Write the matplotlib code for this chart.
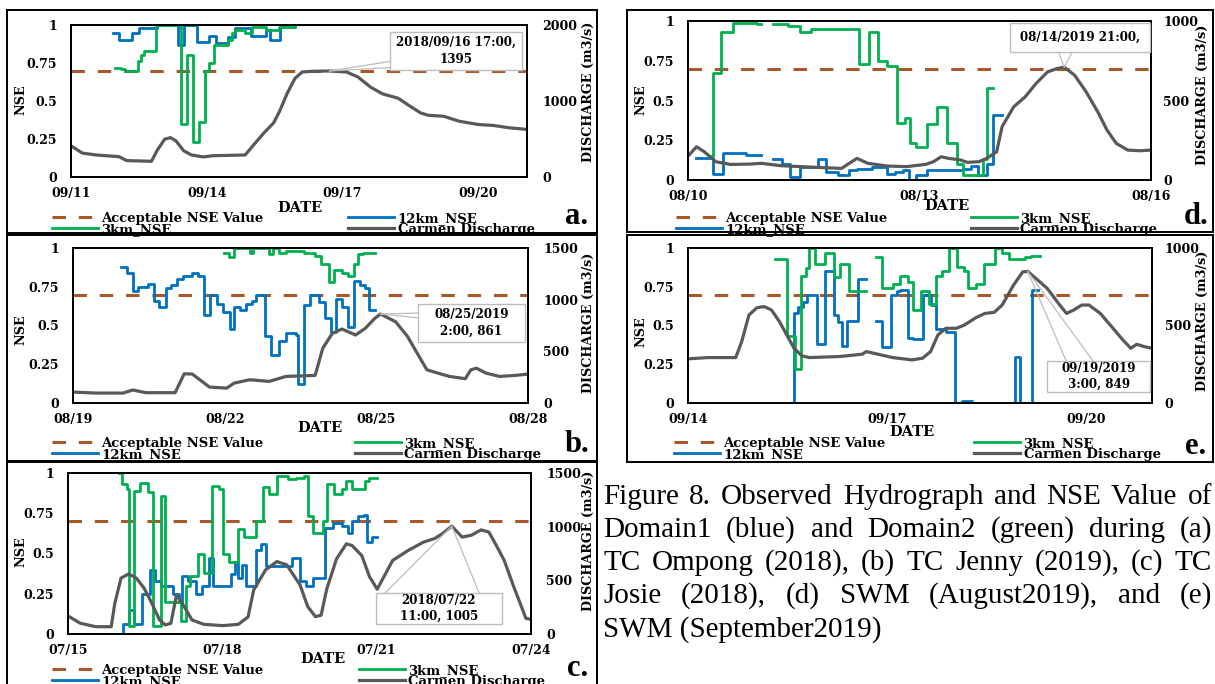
import numpy as np
import matplotlib
matplotlib.use('Agg')
import matplotlib.pyplot as plt
from matplotlib.patches import Rectangle

W, H = 1215, 684
SERIF = 'DejaVu Serif'
CAPFONT = 'Liberation Serif'
C_ACC, C_12, C_3, C_Q = '#A9582A', '#0070C0', '#00B050', '#595959'
plt.rcParams['font.family'] = [SERIF]
plt.rcParams['font.weight'] = 'bold'

NSE_TICKS = [0, 0.25, 0.5, 0.75, 1]
NSE_LABELS = ['0', '0.25', '0.5', '0.75', '1']
ACCEPT = 0.7
SERIES = ['Acceptable NSE Value', '12km_NSE', '3km_NSE', 'Carmen Discharge']

# ---------------- data (x = days since first date tick) ----------------
# (a) TC Ompong 2018
a_dates = ['09/11', '09/14', '09/17', '09/20']
a_q_t = [0, 0.25, 0.55, 1.06, 1.23, 1.78, 1.9, 2.07, 2.2, 2.32, 2.49, 2.66, 2.92, 3.13, 3.85, 4.02,
         4.27, 4.48, 4.61, 4.78, 4.95, 5.11, 5.33, 5.71, 6.09, 6.34, 6.63, 6.89, 7.23, 7.48, 7.73,
         7.9, 8.24, 8.58, 9.0, 9.34, 9.68, 10.08]
a_q_v = [410, 315, 290, 268, 216, 207, 346, 497, 518, 475, 346, 290, 264, 280, 290, 410,
         583, 713, 864, 1102, 1296, 1382, 1391, 1395, 1382, 1317, 1179, 1093, 1037, 937, 842,
         812, 799, 734, 691, 678, 648, 626]
a_12_t = [0.93, 1.05, 1.35, 1.5, 1.9, 2.37, 2.49, 2.79, 3.04, 3.21, 3.47, 3.63, 3.97, 4.31, 4.39, 4.61, 4.95]
a_12_v = [0.95, 0.9, 0.95, 0.98, 1.0, 0.87, 1.0, 0.89, 0.93, 0.88, 0.92, 0.98, 0.93, 0.97, 0.9, 0.99, 1.0]
a_3_t = [0.97, 1.1, 1.2, 1.48, 1.55, 1.62, 1.88, 2.43, 2.56, 2.7, 2.83, 2.96, 3.04, 3.17, 3.47,
         3.55, 3.63, 3.85, 4.0, 4.3, 4.6, 4.95]
a_3_v = [0.72, 0.71, 0.70, 0.76, 0.80, 0.83, 1.0, 0.35, 0.8, 0.23, 0.36, 0.7, 0.75, 0.87, 0.9,
         0.95, 0.97, 0.95, 0.99, 0.97, 0.99, 1.0]

# (b) TC Jenny 2019
b_dates = ['08/19', '08/22', '08/25', '08/28']
b_q_t = [0, 0.46, 0.99, 1.18, 1.44, 2.02, 2.2, 2.36, 2.7, 3.04, 3.19, 3.5, 3.88, 4.21, 4.79, 4.94,
         5.13, 5.32, 5.44, 5.59, 5.78, 5.97, 6.08, 6.38, 6.62, 6.77, 7.0, 7.22, 7.45, 7.76, 7.87,
         7.98, 8.17, 8.44, 8.75, 9.0]
b_q_v = [106, 96, 96, 126, 100, 100, 283, 280, 154, 144, 193, 225, 209, 257, 267, 530,
         674, 716, 690, 658, 722, 819, 861, 787, 642, 514, 321, 289, 257, 235, 321,
         337, 289, 257, 267, 280]
b_12_t = [0.95, 1.065, 1.18, 1.29, 1.48, 1.6, 1.71, 1.83, 1.94, 2.05, 2.17, 2.36, 2.47, 2.59, 2.7,
          2.85, 2.97, 3.1, 3.19, 3.31, 3.42, 3.54, 3.61, 3.8, 3.92, 4.07, 4.22, 4.41, 4.45, 4.56,
          4.68, 4.87, 4.98, 5.1, 5.21, 5.32, 5.44, 5.55, 5.67, 5.78, 5.86, 5.97]
b_12_v = [0.88, 0.84, 0.72, 0.75, 0.77, 0.66, 0.62, 0.74, 0.76, 0.8, 0.82, 0.84, 0.82, 0.57, 0.7,
          0.64, 0.59, 0.48, 0.62, 0.6, 0.64, 0.66, 0.7, 0.43, 0.31, 0.4, 0.45, 0.44, 0.12, 0.63,
          0.7, 0.65, 0.55, 0.46, 0.67, 0.62, 0.49, 0.79, 0.76, 0.74, 0.6, 0.6]
b_3_t = [2.99, 3.08, 3.19, 3.5, 3.57, 3.88, 3.95, 4.07, 4.22, 4.56, 4.79, 4.9, 5.06, 5.17, 5.32,
         5.44, 5.55, 5.63, 5.74, 5.97]
b_3_v = [0.97, 0.94, 1.0, 0.97, 1.0, 0.96, 1.0, 0.97, 0.98, 0.97, 0.95, 0.9, 0.78, 0.86, 0.84,
         0.82, 0.9, 0.96, 0.97, 0.97]

# (c) TC Josie 2018
c_dates = ['07/15', '07/18', '07/21', '07/24']
c_q_t = [0, 0.24, 0.54, 0.84, 0.91, 1.03, 1.18, 1.33, 1.48, 1.63, 1.78, 1.89, 2.0, 2.11, 2.22, 2.41,
         2.64, 3.01, 3.31, 3.5, 3.61, 3.84, 4.06, 4.25, 4.51, 4.66, 4.81, 4.92, 5.03, 5.22, 5.41,
         5.52, 5.71, 5.86, 6.01, 6.16, 6.31, 6.61, 6.91, 7.13, 7.28, 7.46, 7.66, 7.84, 8.03, 8.18,
         8.33, 8.48, 8.67, 8.82, 8.9, 9.0]
c_q_v = [168, 100, 68, 68, 286, 520, 560, 520, 426, 286, 131, 84, 100, 365, 286, 131,
         90, 78, 90, 159, 411, 597, 675, 645, 458, 255, 162, 175, 420, 700, 840,
         825, 731, 535, 417, 551, 685, 778, 856, 890, 936, 1005, 903, 920, 970, 950,
         822, 685, 433, 249, 146, 137]
c_12_t = [1.05, 1.06, 1.18, 1.29, 1.44, 1.59, 1.7, 1.81, 2.04, 2.15, 2.22, 2.34, 2.49, 2.6, 2.75,
          2.82, 3.16, 3.24, 3.31, 3.39, 3.46, 3.65, 3.76, 3.84, 4.36, 4.51, 4.62, 4.77, 5.0, 5.15,
          5.33, 5.45, 5.52, 5.63, 5.75, 5.82, 5.9, 6.01]
c_12_v = [0.0, 0.06, 0.15, 0.06, 0.25, 0.4, 0.33, 0.3, 0.25, 0.2, 0.36, 0.33, 0.25, 0.3, 0.47,
          0.3, 0.37, 0.45, 0.35, 0.43, 0.3, 0.52, 0.56, 0.42, 0.47, 0.33, 0.3, 0.35, 0.66, 0.69,
          0.67, 0.63, 0.7, 0.73, 0.74, 0.57, 0.6, 0.6]
c_3_t = [0.99, 1.05, 1.15, 1.18, 1.29, 1.4, 1.55, 1.66, 1.8, 1.89, 2.19, 2.3, 2.37, 2.52, 2.64,
         2.79, 2.94, 3.01, 3.12, 3.31, 3.42, 3.65, 3.8, 3.91, 4.06, 4.28, 4.43, 4.58, 4.66, 4.77,
         4.96, 5.03, 5.18, 5.33, 5.41, 5.52, 5.78, 5.86, 6.01]
c_3_v = [1.0, 0.93, 0.9, 0.05, 0.89, 0.94, 0.88, 0.05, 0.86, 0.2, 0.08, 0.3, 0.36, 0.5, 0.38,
         0.92, 0.9, 0.5, 0.45, 0.65, 0.6, 0.7, 0.91, 0.87, 0.98, 0.96, 0.97, 0.98, 0.73, 0.63,
         0.7, 0.93, 0.87, 0.9, 0.95, 0.9, 0.95, 0.97, 0.97]

# (d) SWM August 2019
d_dates = ['08/10', '08/13', '08/16']
d_q_t = [0, 0.11, 0.21, 0.36, 0.55, 0.8, 0.95, 1.2, 1.69, 1.99, 2.09, 2.19, 2.33, 2.58, 2.83, 3.08,
         3.18, 3.28, 3.38, 3.53, 3.62, 3.77, 3.87, 4.0, 4.07, 4.22, 4.37, 4.51, 4.66, 4.79, 4.875,
         5.01, 5.16, 5.31, 5.43, 5.55, 5.7, 5.85, 6.0]
d_q_v = [150, 209, 178, 115, 98, 100, 105, 90, 79, 73, 105, 136, 105, 88, 84, 98,
         115, 146, 136, 126, 111, 115, 136, 178, 335, 460, 523, 607, 680, 702, 710,
         659, 554, 429, 314, 230, 188, 184, 188]
d_12_t = [0.11, 0.33, 0.46, 0.75, 0.95, 1.1, 1.22, 1.32, 1.45, 1.69, 1.79, 1.94, 2.09, 2.19, 2.39,
          2.58, 2.68, 2.78, 2.86, 2.96, 3.1, 3.57, 3.67, 3.76, 3.87, 3.95, 4.07]
d_12_v = [0.14, 0.04, 0.17, 0.16, np.nan, 0.13, 0.1, 0.02, 0.08, 0.13, 0.05, 0.03, 0.06, 0.07, 0.08,
          0.04, 0.05, 0.06, 0.0, 0.03, 0.06, 0.07, 0.09, 0.03, 0.1, 0.41, 0.41]
d_3_t = [0.31, 0.33, 0.43, 0.58, 0.9, 0.95, 1.1, 1.3, 1.45, 1.59, 2.09, 2.21, 2.34, 2.46, 2.58,
         2.71, 2.81, 2.88, 2.96, 3.1, 3.23, 3.35, 3.48, 3.57, 3.82, 3.87, 3.95]
d_3_v = [0.15, 0.67, 0.93, 0.99, 0.98, np.nan, 0.98, 0.97, 0.93, 0.95, 0.95, 0.73, 0.93, 0.75, 0.72,
         0.36, 0.39, 0.23, 0.21, 0.35, 0.46, 0.23, 0.1, 0.03, 0.13, 0.58, 0.58]

# (e) SWM September 2019
e_dates = ['09/14', '09/17', '09/20']
e_q_t = [0, 0.3, 0.58, 0.72, 0.81, 0.92, 1.04, 1.15, 1.26, 1.38, 1.49, 1.6, 1.72, 1.83, 2.29, 2.63,
         2.69, 2.8, 3.09, 3.38, 3.54, 3.66, 3.77, 3.89, 4.05, 4.17, 4.34, 4.48, 4.62, 4.74, 4.91,
         5.05, 5.125, 5.25, 5.42, 5.59, 5.71, 5.82, 5.94, 6.05, 6.22, 6.39, 6.56, 6.68, 6.77, 6.88, 7.0]
e_q_v = [285, 293, 293, 293, 396, 568, 615, 622, 600, 525, 439, 353, 304, 293, 300, 315,
         332, 321, 293, 278, 289, 332, 439, 482, 482, 503, 550, 578, 585, 632, 760,
         846, 849, 803, 739, 642, 578, 600, 632, 632, 578, 493, 407, 353, 379, 364, 353]
e_12_t = [1.57, 1.6, 1.66, 1.73, 1.8, 1.95, 2.06, 2.21, 2.26, 2.32, 2.4, 2.56, 2.69, 2.83, 2.92,
          3.06, 3.15, 3.2, 3.32, 3.4, 3.54, 3.66, 3.74, 3.89, 4.03, 4.14, 4.28, 4.93, 5.01, 5.19, 5.28]
e_12_v = [0.0, 0.58, 0.62, 0.65, 0.7, 0.38, 0.85, 0.57, 0.52, 0.37, 0.53, 0.8, np.nan, 0.53, 0.36,
          0.7, 0.72, 0.73, 0.42, 0.41, 0.7, 0.63, 0.48, 0.46, 0.0, 0.01, 0.0, 0.3, 0.0, 0.73, 0.73]
e_3_t = [1.32, 1.5, 1.61, 1.71, 1.78, 1.83, 1.92, 2.06, 2.21, 2.29, 2.43, 2.69, 2.83, 2.92, 3.09,
         3.2, 3.32, 3.4, 3.52, 3.63, 3.74, 3.83, 3.94, 4.06, 4.17, 4.23, 4.34, 4.46, 4.63, 4.74,
         4.85, 5.08, 5.17, 5.31]
e_3_v = [0.93, 0.43, 0.22, 0.82, 0.87, 1.0, 0.9, 0.97, 0.81, 0.9, 0.72, np.nan, 0.94, 0.74, 0.77,
         0.82, 0.78, 0.6, 0.72, 0.64, 0.82, 0.85, 1.0, 0.88, 0.85, 0.74, 0.77, 0.9, 1.0, 0.97,
         0.93, 0.94, 0.95, 0.95]

peak_labels = {
    'a': '2018/09/16 17:00,\n1395',
    'b': '08/25/2019\n2:00, 861',
    'c': '2018/07/22\n11:00, 1005',
    'd': '08/14/2019 21:00,',
    'e': '09/19/2019\n3:00, 849',
}

caption = ["Figure 8. Observed Hydrograph and NSE Value of",
           "Domain1 (blue) and Domain2 (green) during (a)",
           "TC Ompong (2018), (b) TC Jenny (2019), (c) TC",
           "Josie (2018), (d) SWM (August2019), and (e)",
           "SWM (September2019)"]

# ---------------- drawing ----------------
fig = plt.figure(figsize=(W / 100, H / 100), dpi=100)


def fpos(x, y):
    return (x / W, 1 - y / H)


def panel(key, box, rect, xmax, dates, qmax, qstep, q_t, q_v, n12_t, n12_v, n3_t, n3_v,
          legend_12_first, leg_xy, colsp, rpad, cbox, anchors, date_xy, nse_xy, dis_xy, letter_xy):
    fig.add_artist(Rectangle(fpos(box[0], box[3]), (box[2] - box[0]) / W, (box[3] - box[1]) / H,
                             transform=fig.transFigure, fill=False, ec='black', lw=1.4))
    l, t, r, b = rect
    ax = fig.add_axes([l / W, 1 - b / H, (r - l) / W, (b - t) / H])
    ax2 = ax.twinx()

    h_acc = ax.axhline(ACCEPT, color=C_ACC, lw=2.2, dashes=(4.4, 4.2))
    h12, = ax.plot(n12_t, n12_v, drawstyle='steps-post', color=C_12, lw=2.0)
    h3, = ax.plot(n3_t, n3_v, drawstyle='steps-post', color=C_3, lw=2.0)
    hq, = ax2.plot(q_t, q_v, color=C_Q, lw=2.3)

    ax.set_xlim(0, xmax)
    ax.set_ylim(0, 1)
    ax2.set_ylim(0, qmax)
    ax.set_xticks(np.arange(len(dates)) * 3)
    ax.set_xticklabels(dates)
    ax.set_yticks(NSE_TICKS)
    ax.set_yticklabels(NSE_LABELS)
    ax2.set_yticks(np.arange(0, qmax + 1, qstep))
    ax.tick_params(axis='x', length=0, labelsize=9, pad=7)
    ax.tick_params(axis='y', length=0, labelsize=9, pad=10)
    ax2.tick_params(axis='y', length=0, labelsize=9, pad=rpad)
    for a_ in (ax, ax2):
        for s in a_.spines.values():
            s.set_linewidth(1.3)
            s.set_color('black')

    # callout
    i = int(np.argmax(q_v))
    tp, qp = q_t[i], q_v[i]
    for (fx, fy) in anchors:
        ax2.annotate('', xy=(tp, qp), xycoords='data', xytext=(fx, fy), textcoords='axes fraction',
                     arrowprops=dict(arrowstyle='-', color='#BDBDBD', lw=0.9, shrinkA=0, shrinkB=0),
                     zorder=4)
    x0, y0, x1, y1 = cbox
    ax2.add_patch(Rectangle((x0, y0), x1 - x0, y1 - y0, transform=ax2.transAxes, fc='white',
                            ec='#BDBDBD', lw=1.0, zorder=5, clip_on=False))
    ax2.text((x0 + x1) / 2, (y0 + y1) / 2, peak_labels[key], transform=ax2.transAxes, ha='center',
             va='center', fontsize=8.6, zorder=6, linespacing=1.35)

    # legend
    if legend_12_first:
        hs, ls = [h_acc, h12, h3, hq], [SERIES[0], SERIES[1], SERIES[2], SERIES[3]]
    else:
        hs, ls = [h_acc, h3, h12, hq], [SERIES[0], SERIES[2], SERIES[1], SERIES[3]]
    ax.legend(hs, ls, loc='upper left', bbox_to_anchor=fpos(*leg_xy), bbox_transform=fig.transFigure,
              ncol=2, frameon=False, fontsize=9.5, handlelength=3.5, handletextpad=0.25,
              columnspacing=colsp, labelspacing=-0.16, borderpad=0, borderaxespad=0)

    fig.text(*fpos(*date_xy), 'DATE', ha='center', va='center', fontsize=10.5)
    fig.text(*fpos(*nse_xy), 'NSE', ha='center', va='center', fontsize=9.2, rotation=90)
    fig.text(*fpos(*dis_xy), 'DISCHARGE (m3/s)', ha='center', va='center', fontsize=9.2, rotation=90)
    fig.text(*fpos(*letter_xy), key + '.', ha='center', va='center', fontsize=22,
             family=CAPFONT, weight='bold')


panel('a', (7, 10, 597, 233), (71, 25, 527, 177), 10.08, a_dates, 2000, 1000, a_q_t, a_q_v,
      a_12_t, a_12_v, a_3_t, a_3_v, False, (52, 212), 6.4, 11,
      (0.700, 0.704, 0.989, 0.954), [(0.700, 0.76), (0.700, 0.72)],
      (300, 208), (21, 100), (588, 92), (577, 216))
panel('b', (7, 235, 597, 461), (73, 248, 528, 403), 9, b_dates, 1500, 500, b_q_t, b_q_v,
      b_12_t, b_12_v, b_3_t, b_3_v, True, (52, 437), 6.9, 11,
      (0.758, 0.394, 0.993, 0.639), [(0.758, 0.58), (0.758, 0.55)],
      (320, 428), (21, 330), (588, 323), (577, 444))
panel('c', (7, 462, 597, 690), (68, 473, 531, 634), 9, c_dates, 1500, 500, c_q_t, c_q_v,
      c_12_t, c_12_v, c_3_t, c_3_v, True, (52, 664), 7.2, 11,
      (0.665, 0.062, 0.937, 0.255), [(0.685, 0.255), (0.888, 0.255)],
      (323, 659), (21, 552), (588, 541), (578, 668))
panel('d', (627, 10, 1213, 232), (688, 21, 1151, 180), 6, d_dates, 1000, 500, d_q_t, d_q_v,
      d_12_t, d_12_v, d_3_t, d_3_v, True, (676, 212), 6.3, 9,
      (0.695, 0.805, 0.998, 0.987), [(0.80, 0.805), (0.83, 0.805)],
      (947, 206), (641, 100), (1202, 95), (1196, 216))
panel('e', (627, 235, 1213, 462), (688, 248, 1152, 403), 7, e_dates, 1000, 500, e_q_t, e_q_v,
      e_12_t, e_12_v, e_3_t, e_3_v, True, (674, 437), 6.7, 9,
      (0.774, 0.071, 0.996, 0.271), [(0.815, 0.271), (0.873, 0.271)],
      (912, 432), (641, 332), (1202, 321), (1196, 446))

# caption (justified)
renderer = fig.canvas.get_renderer()
cx0, cx1 = 603, 1212
cys = [497, 530, 563, 596, 630]
for k, (line, y) in enumerate(zip(caption, cys)):
    kw = dict(family=CAPFONT, weight='normal', fontsize=21, va='center', ha='left')
    if k == len(caption) - 1:
        fig.text(*fpos(cx0, y), line, **kw)
        continue
    words = line.split(' ')
    texts = [fig.text(0, 0, w, **kw) for w in words]
    widths = [tx.get_window_extent(renderer).width for tx in texts]
    gap = (cx1 - cx0 - sum(widths)) / (len(words) - 1)
    x = cx0
    for tx, wd in zip(texts, widths):
        tx.set_position(fpos(x, y))
        x += wd + gap

fig.savefig('out.png', dpi=100)
